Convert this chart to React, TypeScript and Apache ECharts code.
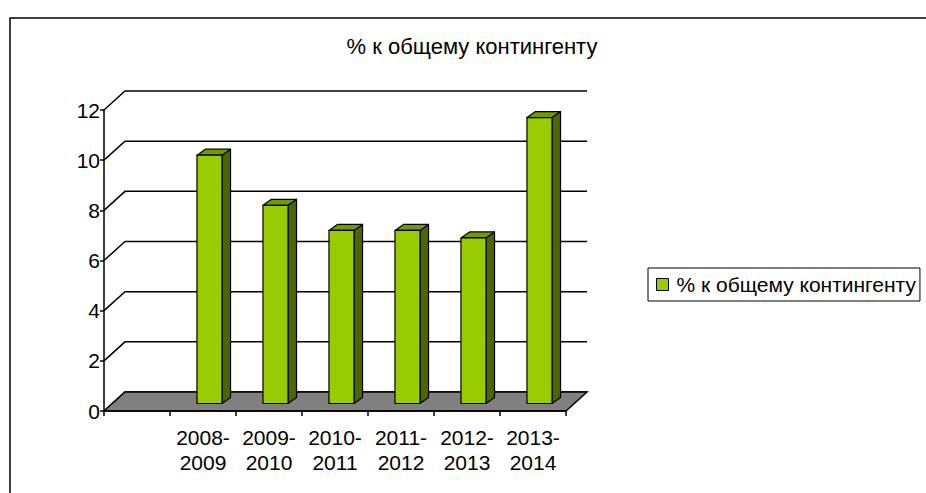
import React, { useEffect, useRef } from "react";
import * as echarts from "echarts";

const TITLE = "% к общему контингенту";
const SERIES_NAME = "% к общему контингенту";
const categories = ["", "2008-\n2009", "2009-\n2010", "2010-\n2011", "2011-\n2012", "2012-\n2013", "2013-\n2014"];
const values: (number | null)[] = [null, 9.9, 7.9, 6.9, 6.9, 6.6, 11.4];
const yMin = 0;
const yMax = 12;
const yStep = 2;
const yTicks = [0, 2, 4, 6, 8, 10, 12];

const FONT = "'Liberation Sans', Arial, sans-serif";
// depth of the 3D box (floor / walls)
const DX = 21;
const DY = -19;
// bar placement inside the depth
const BAR_FRONT = [6.5, -7.5];
const BAR_DEPTH = [8.5, -6];

export default function App() {
  const ref = useRef<HTMLDivElement>(null);
  useEffect(() => {
    if (!ref.current) return;
    const chart = echarts.init(ref.current, undefined, { renderer: "svg" });
    const barData = values
      .map((v, i) => (v == null ? null : [i, v]))
      .filter((d) => d != null);
    const option: any = {
      animation: false,
      backgroundColor: "#ffffff",
      textStyle: { fontFamily: FONT, color: "#000" },
      graphic: [
        {
          type: "rect",
          shape: { x: 10, y: 18, width: 940, height: 500 },
          style: { fill: "none", stroke: "#000", lineWidth: 1.5 },
          z: 0,
          silent: true,
        },
        {
          type: "text",
          x: 472,
          y: 46,
          style: {
            text: TITLE,
            fontSize: 22,
            fontFamily: FONT,
            fill: "#000",
            align: "center",
            verticalAlign: "middle",
          },
        },
      ],
      legend: {
        show: true,
        left: 648,
        top: 268,
        orient: "vertical",
        data: [SERIES_NAME],
        icon: "rect",
        itemWidth: 12,
        itemHeight: 12,
        itemGap: 6,
        padding: [6, 4, 6, 8],
        borderColor: "#000",
        borderWidth: 1,
        borderRadius: 0,
        backgroundColor: "#fff",
        itemStyle: { color: "#99CC00", borderColor: "#000", borderWidth: 1 },
        textStyle: { fontSize: 21, fontFamily: FONT, color: "#000", padding: [0, 0, 0, 3] },
      },
      grid: { left: 104, top: 110, width: 462, height: 301, containLabel: false },
      xAxis: {
        type: "category",
        data: categories,
        boundaryGap: true,
        axisLine: { show: true, lineStyle: { color: "#000", width: 1.5 } },
        axisTick: { show: true, length: 5, alignWithLabel: false, lineStyle: { color: "#000", width: 1.5 } },
        axisLabel: {
          interval: 0,
          fontSize: 21,
          lineHeight: 25,
          margin: 14,
          color: "#000",
          fontFamily: FONT,
        },
        splitLine: { show: false },
        z: 10,
      },
      yAxis: {
        type: "value",
        min: yMin,
        max: yMax,
        interval: yStep,
        axisLine: { show: true, lineStyle: { color: "#000", width: 1.5 } },
        axisTick: { show: true, length: 4, lineStyle: { color: "#000", width: 1.5 } },
        axisLabel: { fontSize: 21, margin: 4, color: "#000", fontFamily: FONT },
        splitLine: { show: false },
        z: 10,
      },
      series: [
        {
          type: "custom",
          name: "walls",
          silent: true,
          z: 1,
          data: yTicks.map((t) => [0, t]),
          renderItem: (params: any, api: any) => {
            const cs = params.coordSys;
            const y = api.coord([0, api.value(1)])[1];
            const x0 = cs.x;
            const x1 = cs.x + cs.width;
            return {
              type: "polyline",
              shape: {
                points: [
                  [x0, y],
                  [x0 + DX, y + DY],
                  [x1 + DX, y + DY],
                ],
              },
              style: { stroke: "#000", lineWidth: 1.5, fill: "none" },
            };
          },
        },
        {
          type: "custom",
          name: "floor",
          silent: true,
          z: 2,
          data: [[0, 0]],
          renderItem: (params: any, api: any) => {
            const cs = params.coordSys;
            const y = api.coord([0, 0])[1];
            const x0 = cs.x;
            const x1 = cs.x + cs.width;
            return {
              type: "polygon",
              shape: {
                points: [
                  [x0, y],
                  [x1, y],
                  [x1 + DX, y + DY],
                  [x0 + DX, y + DY],
                ],
              },
              style: { fill: "#808080", stroke: "#000", lineWidth: 1.5 },
            };
          },
        },
        {
          type: "custom",
          name: SERIES_NAME,
          z: 3,
          itemStyle: { color: "#99CC00" },
          data: barData,
          encode: { x: 0, y: 1 },
          renderItem: (params: any, api: any) => {
            const i = api.value(0);
            const v = api.value(1);
            const p0 = api.coord([i, 0]);
            const p1 = api.coord([i, v]);
            const hw = api.size([1, 0])[0] * 0.19;
            const fx = p0[0] + BAR_FRONT[0];
            const y0 = p0[1] + BAR_FRONT[1];
            const y1 = p1[1] + BAR_FRONT[1];
            const L = fx - hw;
            const R = fx + hw;
            const bx = BAR_DEPTH[0];
            const by = BAR_DEPTH[1];
            const st = { stroke: "#000", lineWidth: 1.2, lineJoin: "round" };
            return {
              type: "group",
              children: [
                {
                  type: "polygon",
                  shape: { points: [[R, y0], [R + bx, y0 + by], [R + bx, y1 + by], [R, y1]] },
                  style: { ...st, fill: "#4D6600" },
                },
                {
                  type: "polygon",
                  shape: { points: [[L, y1], [R, y1], [R + bx, y1 + by], [L + bx, y1 + by]] },
                  style: { ...st, fill: "#739900" },
                },
                {
                  type: "polygon",
                  shape: { points: [[L, y0], [R, y0], [R, y1], [L, y1]] },
                  style: { ...st, fill: "#99CC00" },
                },
              ],
            };
          },
        },
      ],
    };
    chart.setOption(option);
    return () => chart.dispose();
  }, []);
  return (
    <div
      ref={ref}
      style={{ position: "fixed", left: 0, top: 0, width: 926, height: 493, background: "#fff" }}
    />
  );
}
